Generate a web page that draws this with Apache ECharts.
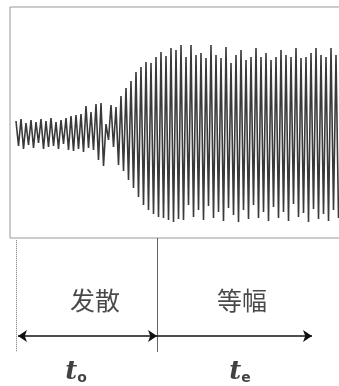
<!DOCTYPE html>
<html>
<head>
<meta charset="utf-8">
<script src="https://cdn.jsdelivr.net/npm/echarts@6/dist/echarts.min.js"></script>
<style>
    html, body { margin: 0; padding: 0; background: #fff; }
    #osc-chart { width: 339px; height: 386px; }
</style>
</head>
<body>
<div id="osc-chart"></div>
<script>
// peak / trough of each oscillation cycle
var peaks = [1.2, 1.4, 1.0, 1.3, 1.1, 1.4, 1.2, 1.5, 1.1, 1.3,
    1.5, 1.7, 1.8, 1.9, 2.7, 2.1, 2.9, 3.0, 0.9, 2.8,
    2.6, 3.7, 4.5, 5.2, 6.1, 6.6, 7.1, 7.0, 7.6, 8.1,
    7.7, 8.5, 8.3, 8.8, 7.6, 8.8, 7.8, 8.0, 7.5, 8.8,
    7.8, 7.5, 8.6, 7.0, 7.8, 8.3, 7.3, 7.6, 8.5, 7.6,
    8.0, 7.3, 7.6, 8.3, 7.8, 7.6, 8.5, 7.5, 7.6, 8.0,
    8.5, 7.8, 7.6, 8.5, 7.8];
var troughs = [-1.3, -1.6, -1.2, -1.5, -1.0, -1.6, -1.4, -1.3, -1.6, -1.1,
    -1.7, -1.8, -1.6, -1.9, -1.5, -1.7, -2.7, -3.3, -0.7, -1.4,
    -3.2, -3.8, -4.7, -5.5, -6.4, -7.2, -7.7, -8.1, -8.4, -8.5,
    -8.7, -8.9, -8.6, -8.7, -7.2, -8.4, -7.7, -8.7, -7.3, -8.5,
    -7.9, -8.8, -7.5, -8.2, -8.9, -7.7, -8.6, -7.2, -8.5, -7.9,
    -8.8, -7.4, -8.5, -7.9, -8.8, -7.1, -8.4, -8.0, -8.9, -7.6,
    -8.6, -8.1, -8.8, -7.7, -8.5];

// phases (in cycles)
var phaseStart = 0;
var phaseSwitch = 28.2;
var phaseEnd = 59.2;
var phaseNames = ['发散', '等幅'];
var phaseTimes = ['o', 'e'];

var oscChart = echarts.init(document.getElementById('osc-chart'));

var signal = [];
for (var i = 0; i < peaks.length; i++) {
    signal.push([i, peaks[i]]);
    signal.push([i + 0.5, troughs[i]]);
}

var hidden = { show: false };
var option = {
    animation: false,
    grid: [
        { left: 10, top: 7, width: 335, height: 231, show: true, borderColor: '#999', borderWidth: 1, outerBoundsMode: 'none', containLabel: false },
        { left: 10, top: 238, width: 335, height: 148, outerBoundsMode: 'none', containLabel: false }
    ],
    xAxis: [
        { type: 'value', gridIndex: 0, min: -1.2, max: 65.8, axisLine: hidden, axisTick: hidden, axisLabel: hidden, splitLine: hidden },
        { type: 'value', gridIndex: 1, min: -1.2, max: 65.8, axisLine: hidden, axisTick: hidden, axisLabel: hidden, splitLine: hidden }
    ],
    yAxis: [
        { type: 'value', gridIndex: 0, min: -10.5, max: 12.6, axisLine: hidden, axisTick: hidden, axisLabel: hidden, splitLine: hidden },
        { type: 'value', gridIndex: 1, min: 0, max: 1, inverse: true, axisLine: hidden, axisTick: hidden, axisLabel: hidden, splitLine: hidden }
    ],
    series: [
        {
            type: 'line',
            xAxisIndex: 0,
            yAxisIndex: 0,
            data: signal,
            symbol: 'none',
            lineStyle: { color: '#3a3a3a', width: 1.6 }
        },
        // phase borders
        {
            type: 'lines',
            coordinateSystem: 'cartesian2d',
            xAxisIndex: 1,
            yAxisIndex: 1,
            symbol: 'none',
            data: [
                { coords: [[phaseStart, 0.015], [phaseStart, 0.77]], lineStyle: { color: '#777', width: 1, type: 'dotted', opacity: 1 } },
                { coords: [[phaseSwitch, 0], [phaseSwitch, 0.77]], lineStyle: { color: '#666', width: 1, opacity: 1 } }
            ]
        },
        {
            type: 'lines',
            coordinateSystem: 'cartesian2d',
            xAxisIndex: 1,
            yAxisIndex: 1,
            symbol: ['arrow', 'arrow'],
            symbolSize: 9,
            lineStyle: { color: '#111', width: 1.5, opacity: 1 },
            data: [{ coords: [[phaseStart + 0.4, 0.662], [phaseSwitch, 0.662]] }]
        },
        {
            type: 'lines',
            coordinateSystem: 'cartesian2d',
            xAxisIndex: 1,
            yAxisIndex: 1,
            symbol: ['none', 'arrow'],
            symbolSize: 9,
            lineStyle: { color: '#111', width: 1.5, opacity: 1 },
            data: [{ coords: [[phaseSwitch, 0.662], [phaseEnd, 0.662]] }]
        },
        // texts
        {
            type: 'scatter',
            xAxisIndex: 1,
            yAxisIndex: 1,
            symbolSize: 0,
            silent: true,
            label: {
                show: true,
                position: 'inside',
                formatter: function (p) { return p.data[2]; },
                fontFamily: 'Noto Sans CJK SC',
                fontSize: 25,
                color: '#1a1a1a'
            },
            data: [[15.8, 0.42, phaseNames[0]], [45.2, 0.42, phaseNames[1]]]
        },
        {
            type: 'scatter',
            xAxisIndex: 1,
            yAxisIndex: 1,
            symbolSize: 0,
            silent: true,
            label: {
                show: true,
                position: 'inside',
                formatter: function (p) { return '{t|t}{s|' + p.data[2] + '}'; },
                rich: {
                    t: { fontFamily: 'DejaVu Serif', fontStyle: 'italic', fontWeight: 'bold', fontSize: 26, color: '#111' },
                    s: { fontFamily: 'DejaVu Sans', fontWeight: 'bold', fontSize: 14, color: '#111', padding: [12, 0, 0, 0] }
                }
            },
            data: [[12, 0.905, phaseTimes[0]], [44.8, 0.905, phaseTimes[1]]]
        }
    ]
};

oscChart.setOption(option);
</script>
</body>
</html>
